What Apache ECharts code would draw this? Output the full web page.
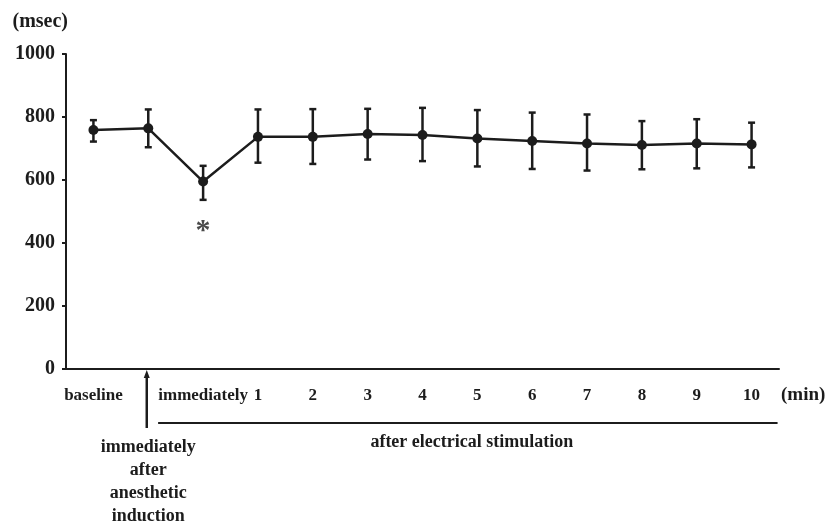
<!DOCTYPE html>
<html>
<head>
<meta charset="utf-8">
<script src="https://cdn.jsdelivr.net/npm/echarts@6/dist/echarts.min.js"></script>
<style>
html,body{margin:0;padding:0;background:#fff;}
#chart{width:830px;height:521px;}
</style>
</head>
<body>
<div id="chart"></div>
<script>
// ---- data ----
const categories = ['baseline', 'immediately after anesthetic induction', 'immediately', '1', '2', '3', '4', '5', '6', '7', '8', '9', '10'];
const xTickLabels = ['baseline', '', 'immediately', '1', '2', '3', '4', '5', '6', '7', '8', '9', '10'];
const meanValues = [759, 764, 595, 737, 737, 746, 743, 732, 724, 716, 711, 716, 713];
const upperValues = [790, 824, 645, 824, 825, 826, 829, 822, 814, 808, 787, 793, 782];
const lowerValues = [722, 704, 537, 655, 651, 665, 660, 643, 635, 630, 634, 637, 640];
const yTicks = [0, 200, 400, 600, 800, 1000];
const starMark = { category: 2, value: 437, text: '*' };
const inductionLabel = 'immediately\nafter\nanesthetic\ninduction';
const stimulationLabel = 'after electrical stimulation';
const yName = '(msec)';
const xName = '(min)';

const INK = '#1c1c1c';
const FONT = '"Liberation Serif", "DejaVu Serif", serif';

const chart = echarts.init(document.getElementById('chart'), null, { renderer: 'canvas' });

const errData = categories.map((c, i) => [i, lowerValues[i], upperValues[i]]);

chart.setOption({
  backgroundColor: '#fff',
  animation: false,
  grid: { left: 66, right: 51, top: 54, bottom: 152, containLabel: false },
  xAxis: {
    type: 'category',
    data: categories,
    boundaryGap: true,
    axisLine: { lineStyle: { color: INK, width: 2 } },
    axisTick: { show: false },
    axisLabel: {
      interval: 0, margin: 18, color: INK,
      fontFamily: FONT, fontWeight: 'bold', fontSize: 17,
      formatter: (v, i) => xTickLabels[i]
    },
    name: xName,
    nameLocation: 'end',
    nameGap: 2,
    nameTextStyle: {
      color: INK, fontFamily: FONT, fontWeight: 'bold', fontSize: 19,
      verticalAlign: 'top', align: 'left', padding: [17, 0, 0, 0]
    },
    splitLine: { show: false }
  },
  yAxis: {
    type: 'value',
    min: yTicks[0], max: yTicks[yTicks.length - 1], interval: 200,
    axisLine: { show: true, lineStyle: { color: INK, width: 2 } },
    axisTick: { show: true, length: 4, lineStyle: { color: INK, width: 2 } },
    axisLabel: {
      margin: 11, color: INK, fontFamily: FONT, fontWeight: 'bold', fontSize: 20,
      formatter: (v) => String(v)
    },
    splitLine: { show: false },
    name: yName,
    nameLocation: 'end',
    nameGap: 22,
    nameTextStyle: {
      color: INK, fontFamily: FONT, fontWeight: 'bold', fontSize: 20,
      align: 'right', padding: [0, -2, 0, 0]
    }
  },
  series: [
    {
      type: 'custom',
      data: errData,
      z: 2,
      renderItem: function (params, api) {
        const lo = api.coord([api.value(0), api.value(1)]);
        const hi = api.coord([api.value(0), api.value(2)]);
        const half = 3.5;
        const st = { stroke: INK, lineWidth: 2.5 };
        return {
          type: 'group',
          children: [
            { type: 'line', shape: { x1: lo[0], y1: lo[1], x2: hi[0], y2: hi[1] }, style: st },
            { type: 'line', shape: { x1: lo[0] - half, y1: lo[1], x2: lo[0] + half, y2: lo[1] }, style: st },
            { type: 'line', shape: { x1: hi[0] - half, y1: hi[1], x2: hi[0] + half, y2: hi[1] }, style: st }
          ]
        };
      }
    },
    {
      type: 'line',
      data: meanValues,
      z: 3,
      symbol: 'circle',
      symbolSize: 10,
      lineStyle: { color: INK, width: 2.5 },
      itemStyle: { color: INK, borderWidth: 0 }
    },
    {
      type: 'scatter',
      data: [[starMark.category, starMark.value]],
      symbolSize: 0,
      label: {
        show: true, position: 'inside', formatter: starMark.text,
        color: INK, fontFamily: FONT, fontWeight: 'bold', fontSize: 30
      }
    }
  ]
});

// annotations below the x-axis, positioned from the axes
const xInd = chart.convertToPixel({ xAxisIndex: 0 }, 1);
const xFirstStim = chart.convertToPixel({ xAxisIndex: 0 }, 2);
const xLast = chart.convertToPixel({ xAxisIndex: 0 }, categories.length - 1);
const y0 = chart.convertToPixel({ yAxisIndex: 0 }, 0);
const lineStart = xFirstStim - 45;
const lineEnd = xLast + 26;
const lineY = y0 + 54;

chart.setOption({
  graphic: [
    { type: 'line', shape: { x1: xInd - 1.5, y1: y0 + 59, x2: xInd - 1.5, y2: y0 + 6 }, style: { stroke: INK, lineWidth: 2.5 } },
    { type: 'polygon', shape: { points: [[xInd - 1.5, y0 + 1], [xInd - 4.5, y0 + 9], [xInd + 1.5, y0 + 9]] }, style: { fill: INK } },
    { type: 'line', shape: { x1: lineStart, y1: lineY, x2: lineEnd, y2: lineY }, style: { stroke: INK, lineWidth: 2 } },
    {
      type: 'text', x: xInd, y: y0 + 67,
      style: {
        text: inductionLabel, fill: INK, font: 'bold 18px ' + FONT,
        align: 'center', verticalAlign: 'top', lineHeight: 23
      }
    },
    {
      type: 'text', x: (lineStart + lineEnd) / 2 + 4, y: lineY + 19,
      style: {
        text: stimulationLabel, fill: INK, font: 'bold 18px ' + FONT,
        align: 'center', verticalAlign: 'middle'
      }
    }
  ]
});
</script>
</body>
</html>
